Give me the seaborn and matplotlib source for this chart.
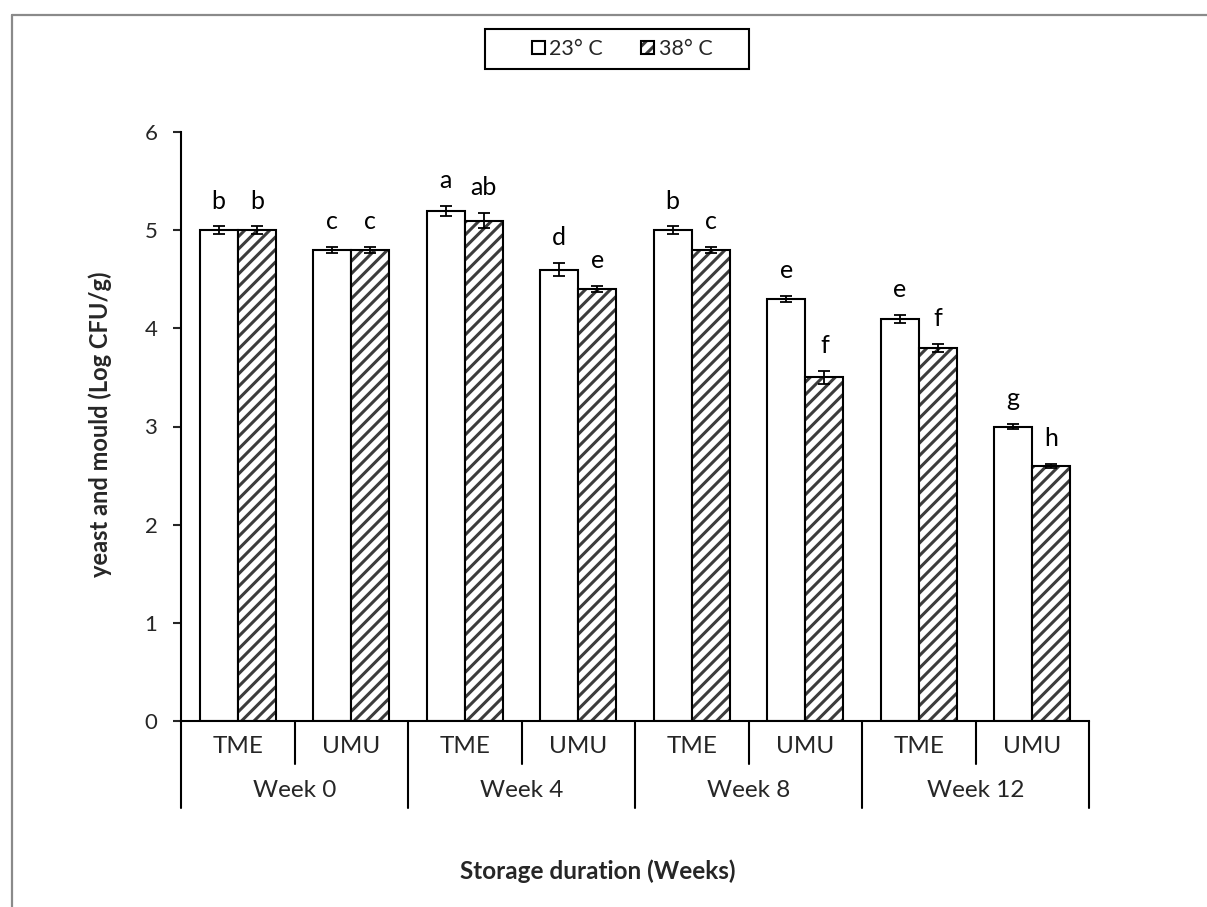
import numpy as np
import pandas as pd
import matplotlib
matplotlib.use("Agg")
import matplotlib.pyplot as plt
import matplotlib.colors as mcolors
from matplotlib.lines import Line2D
from matplotlib.patches import Rectangle
from matplotlib.backend_bases import GraphicsContextBase
import seaborn as sns

# ---- data -------------------------------------------------------------
weeks = ["Week 0", "Week 4", "Week 8", "Week 12"]
varieties = ["TME", "UMU"]
temps = ["23° C", "38° C"]

mean_23 = [5.0, 4.8, 5.2, 4.6, 5.0, 4.3, 4.1, 3.0]
mean_38 = [5.0, 4.8, 5.1, 4.4, 4.8, 3.5, 3.8, 2.6]
sd_23 = [0.04, 0.03, 0.05, 0.07, 0.04, 0.03, 0.04, 0.03]
sd_38 = [0.04, 0.03, 0.08, 0.03, 0.03, 0.07, 0.04, 0.02]
letters_23 = ["b", "c", "a", "d", "b", "e", "e", "g"]
letters_38 = ["b", "c", "ab", "e", "c", "f", "f", "h"]

y_ticks = [0, 1, 2, 3, 4, 5, 6]

# one group per (week, variety) pair, in plotting order
groups = [f"{w} {v}" for w in weeks for v in varieties]
df = pd.DataFrame({
    "group": groups * 2,
    "temp": [temps[0]] * len(groups) + [temps[1]] * len(groups),
    "value": mean_23 + mean_38,
})

# ---- style ------------------------------------------------------------
sns.set_style("white")
plt.rcParams["font.family"] = ["Lato", "DejaVu Sans"]
plt.rcParams["hatch.linewidth"] = 2.2

# denser diagonal hatching than the default
_base_hatch_path = GraphicsContextBase.get_hatch_path
def _dense_hatch_path(self, density=8.0):
    return _base_hatch_path(self, density)
GraphicsContextBase.get_hatch_path = _dense_hatch_path

W, H = 1207, 907
fig = plt.figure(figsize=(W / 100, H / 100), dpi=100)
ax_l, ax_r, ax_t, ax_b = 181, 1089, 132.3, 720.7
ax = fig.add_axes([ax_l / W, 1 - ax_b / H, (ax_r - ax_l) / W, (ax_b - ax_t) / H])

sns.barplot(
    data=df, x="group", y="value", hue="temp",
    order=groups, hue_order=temps,
    palette=["white", "white"], saturation=1,
    edgecolor="black", linewidth=1.5, width=0.67,
    errorbar=None, legend=False, ax=ax,
)

hatch_grey = mcolors.to_rgba("#3c3c3c")
for bar in ax.containers[1]:
    bar.set_hatch("//")
    bar._hatch_color = hatch_grey

# error bars and significance letters
for container, sds, letters in zip(ax.containers, [sd_23, sd_38], [letters_23, letters_38]):
    xs = [b.get_x() + b.get_width() / 2 for b in container]
    hs = [b.get_height() for b in container]
    ax.errorbar(xs, hs, yerr=sds, fmt="none", ecolor="black",
                elinewidth=1.3, capsize=4.3, capthick=1.3, zorder=4)
    for x, h, s, t in zip(xs, hs, sds, letters):
        ax.annotate(t, (x, h + s), xytext=(0, 10), textcoords="offset points",
                    ha="center", va="bottom", fontsize=18, color="black")

# ---- axes -------------------------------------------------------------
ax.set_xlim(-0.5, len(groups) - 0.5)
ax.set_ylim(0, 6)
ax.set_yticks(y_ticks)
ax.set_yticklabels([str(t) for t in y_ticks])
ax.tick_params(axis="y", direction="out", length=5.5, width=1.5,
               labelsize=16, pad=11.5, left=True)
ax.set_xticks([])
ax.set_xlabel("")
ax.set_ylabel("")
for side in ("top", "right"):
    ax.spines[side].set_visible(False)
for side in ("left", "bottom"):
    ax.spines[side].set_linewidth(1.5)
    ax.spines[side].set_color("black")

# two-level category axis
axh = ax_b - ax_t
trans = ax.get_xaxis_transform()
short_drop = -43 / axh
long_drop = -87 / axh
for i in range(len(weeks) + 1):
    x = 2 * i - 0.5
    ax.add_line(Line2D([x, x], [0, long_drop], transform=trans, color="black",
                       lw=1.5, clip_on=False))
for i in range(len(weeks)):
    x = 2 * i + 0.5
    ax.add_line(Line2D([x, x], [0, short_drop], transform=trans, color="black",
                       lw=1.5, clip_on=False))
for i, g in enumerate(groups):
    ax.text(i, -26 / axh, varieties[i % 2], transform=trans, ha="center",
            va="center", fontsize=17.5)
for k, w in enumerate(weeks):
    ax.text(2 * k + 0.5, -69.5 / axh, w, transform=trans, ha="center",
            va="center", fontsize=17.5)

# axis titles
fig.text(100 / W, 1 - 424 / H, "yeast and mould (Log CFU/g)", rotation=90,
         ha="center", va="center", fontsize=17, fontweight="bold")
fig.text(598 / W, 1 - 871 / H, "Storage duration (Weeks)",
         ha="center", va="center", fontsize=17.5, fontweight="bold")

# legend
fig.legend(list(ax.containers), temps, loc="center",
           bbox_to_anchor=(622 / W, 1 - 49 / H), ncol=2, frameon=False,
           fontsize=15.5, handlelength=0.6, handleheight=0.6,
           handletextpad=0.2, columnspacing=1.8)
fig.add_artist(Rectangle((485 / W, 1 - 69 / H), (749 - 485) / W, 40 / H,
                         transform=fig.transFigure, fill=False,
                         edgecolor="black", lw=1.5))

# outer frame
frame_c = "#8a8a8a"
fig.add_artist(Line2D([12 / W, 12 / W], [0, 1 - 15 / H], transform=fig.transFigure,
                      color=frame_c, lw=1.6))
fig.add_artist(Line2D([12 / W, 1], [1 - 15 / H, 1 - 15 / H], transform=fig.transFigure,
                      color=frame_c, lw=1.6))

fig.savefig("out.png", dpi=100, facecolor="white")
